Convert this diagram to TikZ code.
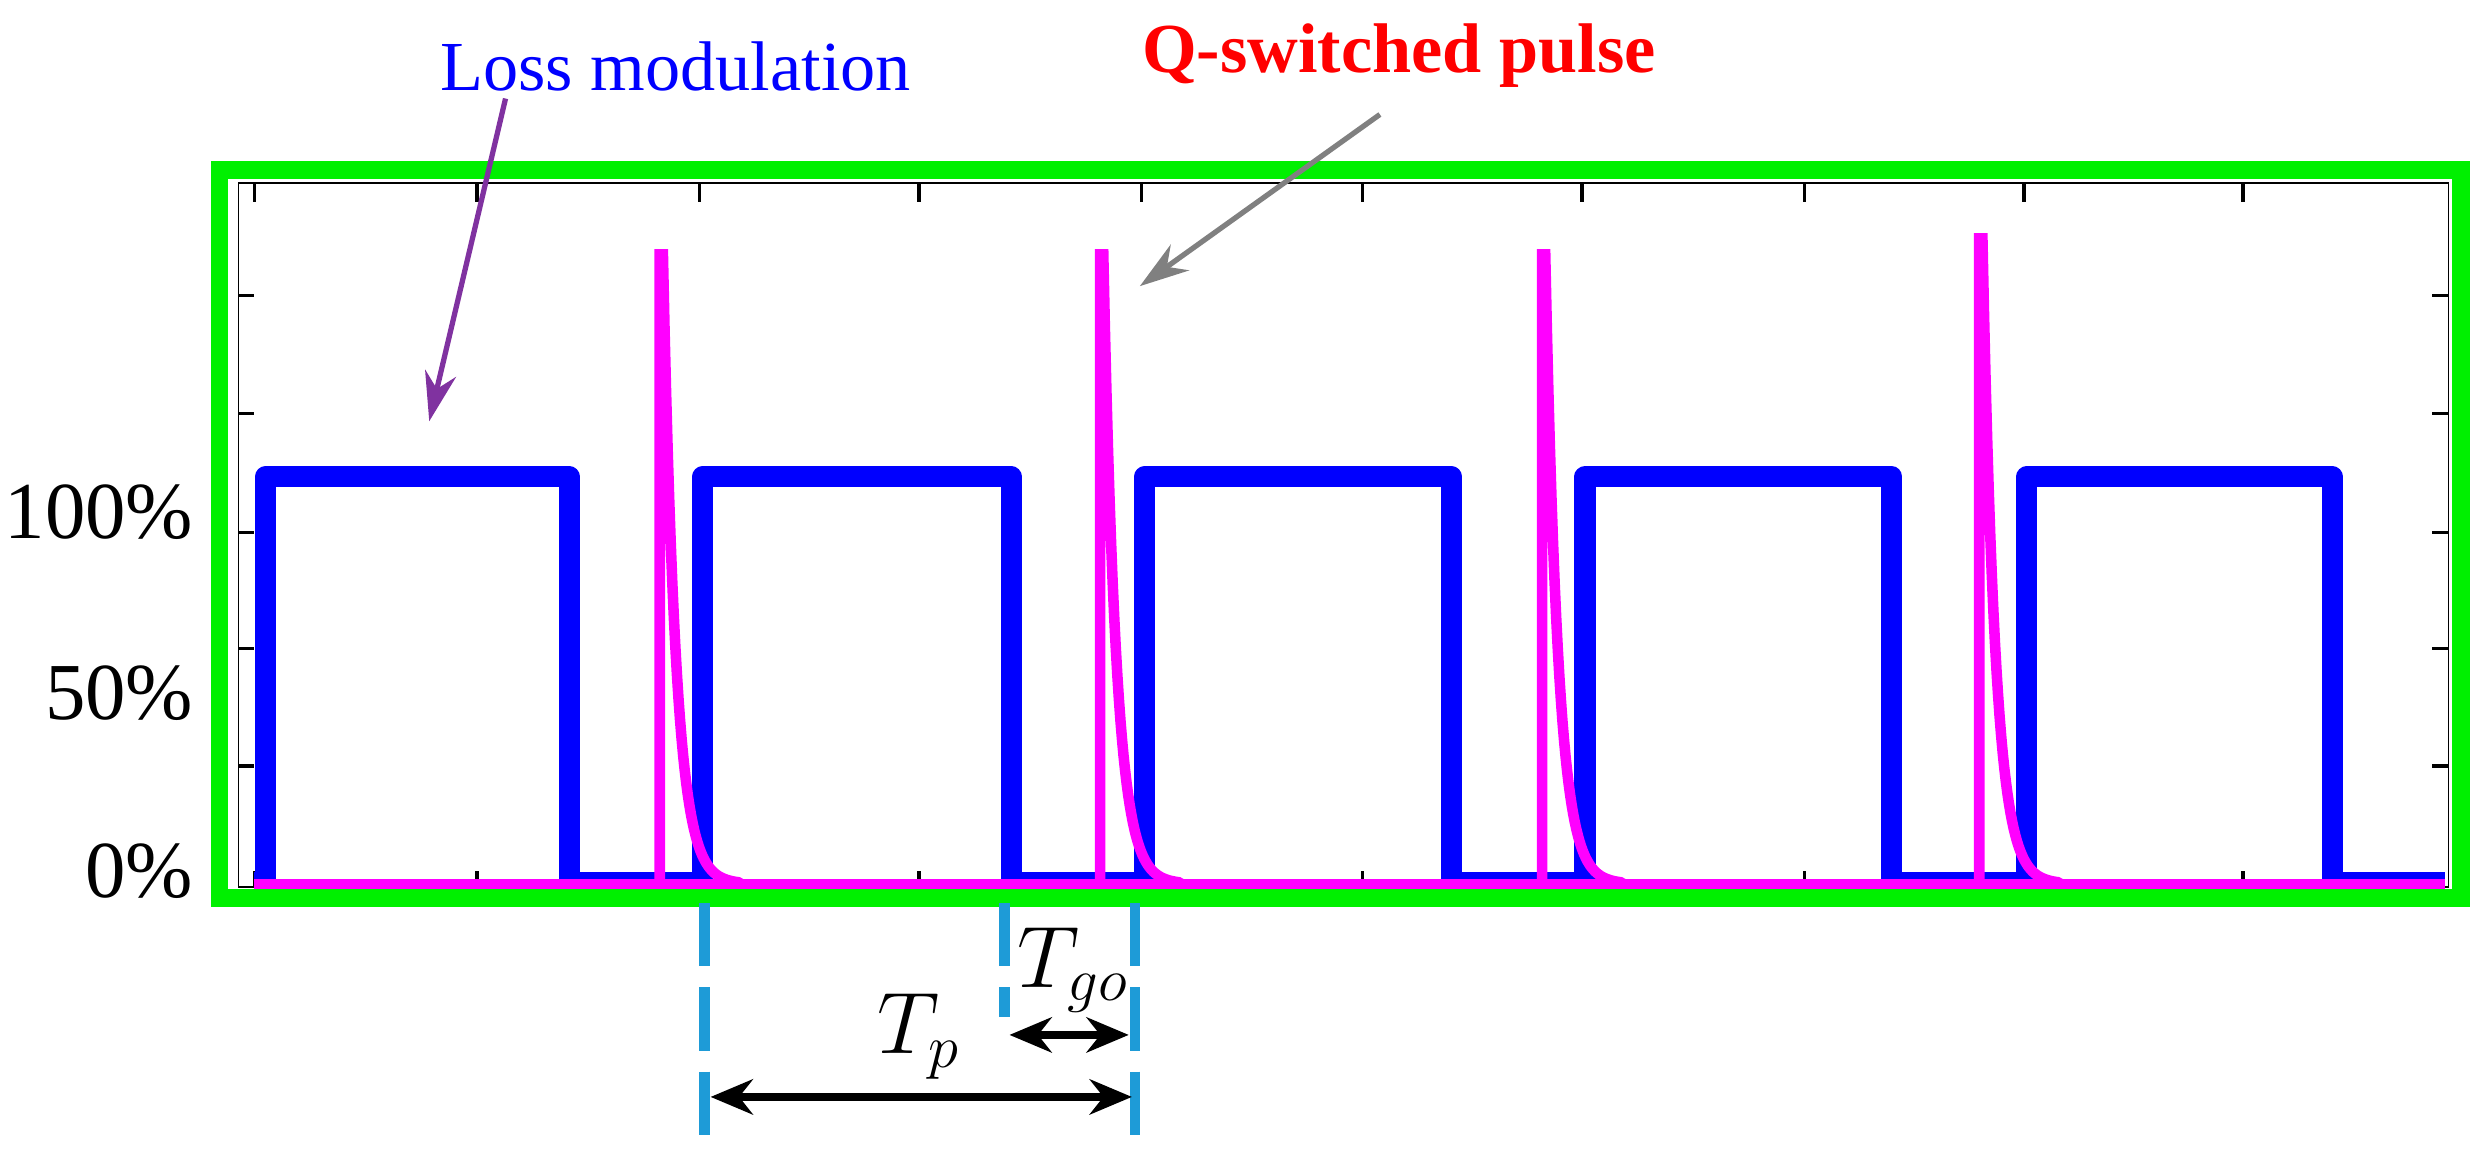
\documentclass[tikz,border=0pt]{standalone}
\usepackage{fontspec}
\setmainfont{Liberation Serif}
\usetikzlibrary{arrows.meta}

\definecolor{frame}{RGB}{0,240,0}
\definecolor{loss}{RGB}{0,0,255}
\definecolor{pulse}{RGB}{255,0,255}
\definecolor{marker}{RGB}{30,155,215}
\definecolor{lossarrow}{RGB}{128,50,160}

\tikzstyle{title} = [font=\rmfamily\fontsize{20}{24}\selectfont]
\tikzstyle{ylab} = [font=\rmfamily\fontsize{23}{26}\selectfont, anchor=east, inner sep=0pt]
\tikzstyle{tlab} = [font=\fontsize{26}{28}\selectfont]
\tikzstyle{arrow} = [line width=2.5pt,{Stealth[length=12pt,width=10pt]}-{Stealth[length=12pt,width=10pt]}]
\tikzstyle{guide} = [marker, line width=3pt, dash pattern=on 18pt off 6pt]
\tikzstyle{pointer} = [line width=1.5pt,-{Stealth[length=14pt,width=9pt]}]

\begin{document}
\begin{tikzpicture}[x=0.0159cm, y=-0.0159cm]
	\useasboundingbox (0,0) rectangle (1560,733);
	% axes
	\draw[thin] (150,115) rectangle (1540,558);
	\foreach \x in {160,300,440,578,718,857,995,1135,1273,1411}
		\draw[line width=1pt] (\x,115) -- (\x,127) (\x,558) -- (\x,548);
	\foreach \y in {186,260,335,408,482}
		\draw[line width=1pt] (150,\y) -- (160,\y) (1540,\y) -- (1530,\y);
	% loss modulation
	\draw[loss, line width=6pt, line join=round]
		(160,555) -- (167,555) -- (167,300) -- (358,300) -- (358,555)
		-- (442,555) -- (442,300) -- (636,300) -- (636,555)
		-- (720,555) -- (720,300) -- (913,300) -- (913,555)
		-- (997,555) -- (997,300) -- (1190,300) -- (1190,555)
		-- (1275,555) -- (1275,300) -- (1467,300) -- (1467,555) -- (1538,555);
	% pulses
	\draw[pulse, line width=3pt] (160,556) -- (1538,556);
	\foreach \x/\h in {415/160,692/160,970/160,1245/150}
		\draw[pulse, line width=3pt, line cap=round] (\x,556) -- (\x,\h)
			-- plot[variable=\t, domain=2:50, samples=50] ({\x+\t},{556-(556-\h)*exp(-(\t-2)/8)});
	% frame
	\draw[frame, line width=5pt] (138,107) rectangle (1548,565);
	% y labels
	\node (l100) [ylab] at (122,322) {100\%};
	\node (l50) [ylab] at (122,436) {50\%};
	\node (l0) [ylab] at (122,548) {0\%};
	% titles
	\node (loss) [title, text=loss] at (425,42) {Loss modulation};
	\node (qs) [title, text=red, font=\rmfamily\bfseries\fontsize{20}{24}\selectfont] at (880,35) {Q-switched pulse};
	\coordinate (losstip) at (270,265);
	\coordinate (qstip) at (717,180);
	\draw[pointer, lossarrow] (318,62) -- (losstip);
	\draw[pointer, gray] (868,72) -- (qstip);
	% period markers
	\coordinate (a1) at (443,568); \coordinate (a2) at (443,718);
	\coordinate (b1) at (632,568); \coordinate (b2) at (632,640);
	\coordinate (c1) at (714,568); \coordinate (c2) at (714,722);
	\draw[guide] (a1) -- (a2);
	\draw[guide] (b1) -- (b2);
	\draw[guide] (c1) -- (c2);
	\coordinate (tp1) at (447,690); \coordinate (tp2) at (712,690);
	\coordinate (tg1) at (635,651); \coordinate (tg2) at (710,651);
	\draw[arrow] (tp1) -- (tp2);
	\draw[arrow] (tg1) -- (tg2);
	\node (tp) [tlab] at (578,652) {$T_p$};
	\node (tgo) [tlab] at (675,610) {$T_{go}$};
\end{tikzpicture}
\end{document}
